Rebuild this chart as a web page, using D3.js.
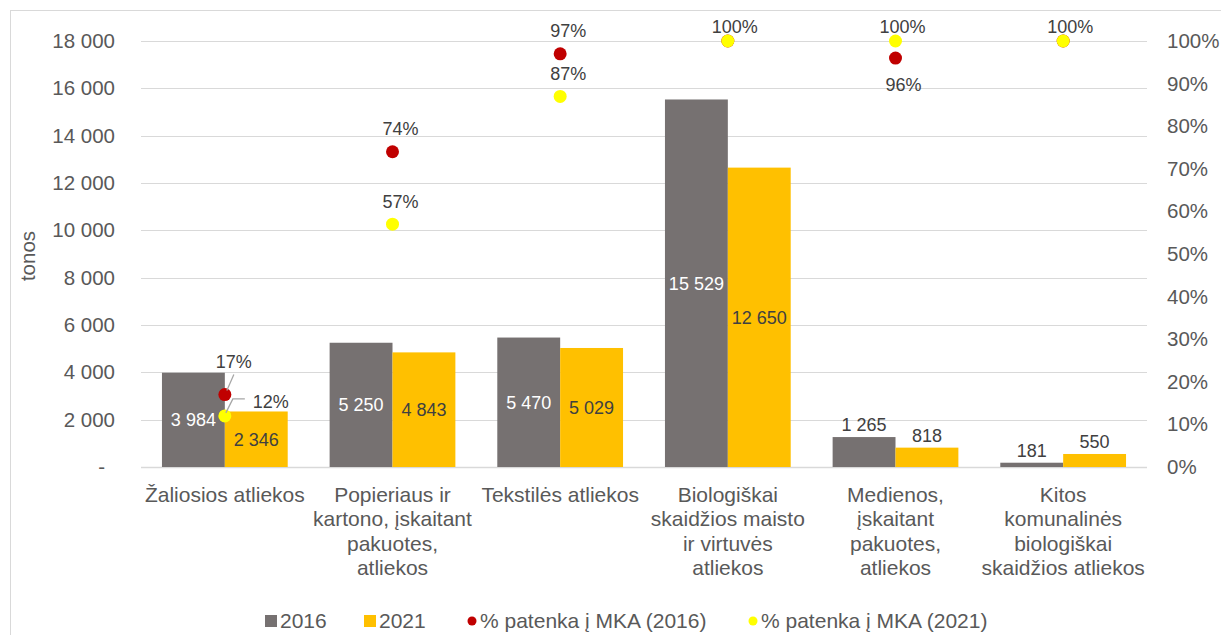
<!DOCTYPE html>
<html>
    <head>
        <title>Biologiškai skaidžios atliekos</title>
        <script src="https://d3js.org/d3.v7.min.js" charset="utf-8"></script>
        <style>
            body {
                margin: 0;
                background: white;
                font-family: "Liberation Sans", Arial, sans-serif;
            }
        </style>
    </head>
    <body>
        <script>
            // chart data
            var categories = [
                ["Žaliosios atliekos"],
                ["Popieriaus ir", "kartono, įskaitant", "pakuotes,", "atliekos"],
                ["Tekstilės atliekos"],
                ["Biologiškai", "skaidžios maisto", "ir virtuvės", "atliekos"],
                ["Medienos,", "įskaitant", "pakuotes,", "atliekos"],
                ["Kitos", "komunalinės", "biologiškai", "skaidžios atliekos"]
            ];
            var tons2016 = [3984, 5250, 5470, 15529, 1265, 181];
            var tons2021 = [2346, 4843, 5029, 12650, 818, 550];
            var pct2016 = [0.17, 0.74, 0.97, 1.00, 0.96, 1.00];
            var pct2021 = [0.12, 0.57, 0.87, 1.00, 1.00, 1.00];
            var leftTicks = [0, 2000, 4000, 6000, 8000, 10000, 12000, 14000, 16000, 18000];
            var rightTicks = [0, 0.1, 0.2, 0.3, 0.4, 0.5, 0.6, 0.7, 0.8, 0.9, 1.0];
            var legendNames = ["2016", "2021", "% patenka į MKA (2016)", "% patenka į MKA (2021)"];

            var width = 1221;
            var height = 635;
            var plotL = 141, plotR = 1147, plotT = 41, plotB = 467;

            var gray = "#767171", gold = "#FFC000", red = "#C00000", yellow = "#FFFF00";
            var textCol = "#595959", labelCol = "#404040";

            var svg = d3.select("body")
                .append("svg")
                .attr("width", width)
                .attr("height", height);

            // outer frame
            svg.append("rect")
                .attr("x", 10.5).attr("y", 10.5)
                .attr("width", width + 20).attr("height", height + 20)
                .attr("fill", "none")
                .attr("stroke", "#D9D9D9");

            var x0 = d3.scaleBand()
                .domain(d3.range(categories.length))
                .range([plotL, plotR])
                .paddingInner(0.25)
                .paddingOuter(0.125);
            var x1 = d3.scaleBand()
                .domain([0, 1])
                .range([0, x0.bandwidth()]);
            var yL = d3.scaleLinear().domain([0, 18000]).range([plotB, plotT]);
            var yR = d3.scaleLinear().domain([0, 1]).range([plotB, plotT]);

            // gridlines
            svg.append("g").selectAll("line")
                .data(leftTicks)
                .enter()
                .append("line")
                .attr("x1", plotL).attr("x2", plotR)
                .attr("y1", function(d) { return Math.round(yL(d)) + 0.5; })
                .attr("y2", function(d) { return Math.round(yL(d)) + 0.5; })
                .attr("stroke", "#D9D9D9")
                .attr("stroke-width", function(d) { return d === 0 ? 1.5 : 1; });

            // left axis
            var fmt = function(d) { return d === 0 ? "-" : d3.format(",")(d).replace(",", " "); };
            var axL = d3.axisLeft(yL).tickValues(leftTicks).tickFormat(fmt).tickSize(0).tickPadding(0);
            var gL = svg.append("g").attr("transform", "translate(115,0)").call(axL);
            gL.select(".domain").remove();
            gL.selectAll("text")
                .attr("fill", textCol)
                .style("font-size", "20.5px")
                .style("font-family", "Liberation Sans, Arial, sans-serif")
                .attr("dx", function(d) { return d === 0 ? -10 : 0; });

            // right axis
            var axR = d3.axisRight(yR).tickValues(rightTicks).tickFormat(d3.format(".0%")).tickSize(0).tickPadding(0);
            var gR = svg.append("g").attr("transform", "translate(1167,0)").call(axR);
            gR.select(".domain").remove();
            gR.selectAll("text")
                .attr("fill", textCol)
                .style("font-size", "20.5px")
                .style("font-family", "Liberation Sans, Arial, sans-serif");

            // axis title
            svg.append("text")
                .attr("transform", "translate(35,256) rotate(-90)")
                .attr("text-anchor", "middle")
                .attr("fill", textCol)
                .style("font-size", "20.5px")
                .text("tonos");

            // bars
            var series = [tons2016, tons2021];
            var barCols = [gray, gold];
            var groups = svg.append("g").selectAll("g")
                .data(categories.map(function(c, i) { return i; }))
                .enter()
                .append("g")
                .attr("transform", function(i) { return "translate(" + x0(i) + ",0)"; });

            groups.selectAll("rect")
                .data(function(i) { return [0, 1].map(function(s) { return {s: s, v: series[s][i]}; }); })
                .enter()
                .append("rect")
                .attr("x", function(d) { return x1(d.s); })
                .attr("width", x1.bandwidth())
                .attr("y", function(d) { return yL(d.v); })
                .attr("height", function(d) { return plotB - yL(d.v); })
                .attr("fill", function(d) { return barCols[d.s]; });

            // bar labels: centred inside big bars, above small ones
            groups.selectAll("text.val")
                .data(function(i) { return [0, 1].map(function(s) { return {s: s, v: series[s][i]}; }); })
                .enter()
                .append("text")
                .attr("class", "val")
                .attr("x", function(d) { return x1(d.s) + x1.bandwidth() / 2; })
                .attr("y", function(d) {
                    if (d.v < 2000) return yL(d.v) - 6;
                    return (yL(d.v) + plotB) / 2 + 6.5;
                })
                .attr("text-anchor", "middle")
                .attr("fill", function(d) { return (d.v >= 2000 && d.s === 0) ? "#FFFFFF" : labelCol; })
                .style("font-size", "18px")
                .text(function(d) { return d3.format(",")(d.v).replace(",", " "); });

            // percentage dots
            var pcts = [pct2016, pct2021];
            var dotCols = [red, yellow];
            var cx = function(i) { return x0(i) + x0.bandwidth() / 2; };
            [0, 1].forEach(function(s) {
                svg.append("g").selectAll("circle")
                    .data(pcts[s])
                    .enter()
                    .append("circle")
                    .attr("cx", function(d, i) { return cx(i); })
                    .attr("cy", function(d) { return yR(d); })
                    .attr("r", 6.5)
                    .attr("fill", dotCols[s]);
            });

            // percentage labels, mostly above the dot
            var place = function(s, i, p) {
                if (s === 0 && i === 4) return {dx: 8, dy: 33};
                if (s === 0 && i === 0) return {dx: 9, dy: -27, lead: [[9, -20], [2, -4]]};
                if (s === 1 && i === 0) return {dx: 46, dy: -8, lead: [[20, -17], [8, -17], [1, -3]]};
                if (p >= 1) return {dx: 7, dy: -8};
                return {dx: 8, dy: -16.5};
            };
            [0, 1].forEach(function(s) {
                pcts[s].forEach(function(p, i) {
                    // red label hidden where it sits under the yellow one
                    if (s === 0 && p === pct2021[i]) return;
                    var o = place(s, i, p);
                    var px = cx(i), py = yR(p);
                    if (o.lead) {
                        svg.append("path")
                            .attr("d", d3.line()(o.lead.map(function(q) { return [px + q[0], py + q[1]]; })))
                            .attr("fill", "none")
                            .attr("stroke", "#A6A6A6")
                            .attr("stroke-width", 1.3);
                    }
                    svg.append("text")
                        .attr("x", px + o.dx)
                        .attr("y", py + o.dy)
                        .attr("text-anchor", "middle")
                        .attr("fill", labelCol)
                        .style("font-size", "18px")
                        .text(d3.format(".0%")(p));
                });
            });

            // category labels
            var cat = svg.append("g").selectAll("text")
                .data(categories)
                .enter()
                .append("text")
                .attr("text-anchor", "middle")
                .attr("fill", textCol)
                .style("font-size", "21px");
            cat.selectAll("tspan")
                .data(function(d, i) { return d.map(function(l) { return {l: l, i: i}; }); })
                .enter()
                .append("tspan")
                .attr("x", function(d) { return cx(d.i); })
                .attr("y", function(d, k) { return 502 + k * 24.3; })
                .text(function(d) { return d.l; });

            // legend
            var legX = [265, 364, 467, 748];
            var leg = svg.append("g").selectAll("g")
                .data(legendNames)
                .enter()
                .append("g")
                .attr("transform", function(d, i) { return "translate(" + legX[i] + ",0)"; });
            leg.each(function(d, i) {
                var g = d3.select(this);
                if (i < 2) {
                    g.append("rect").attr("x", 0).attr("y", 615).attr("width", 12).attr("height", 12)
                        .attr("fill", barCols[i]);
                } else {
                    g.append("circle").attr("cx", 5).attr("cy", 621).attr("r", 4.5)
                        .attr("fill", dotCols[i - 2]);
                }
                g.append("text")
                    .attr("x", i < 2 ? 15 : 13)
                    .attr("y", 628)
                    .attr("fill", textCol)
                    .style("font-size", "21px")
                    .text(d);
            });
        </script>
    </body>
</html>
